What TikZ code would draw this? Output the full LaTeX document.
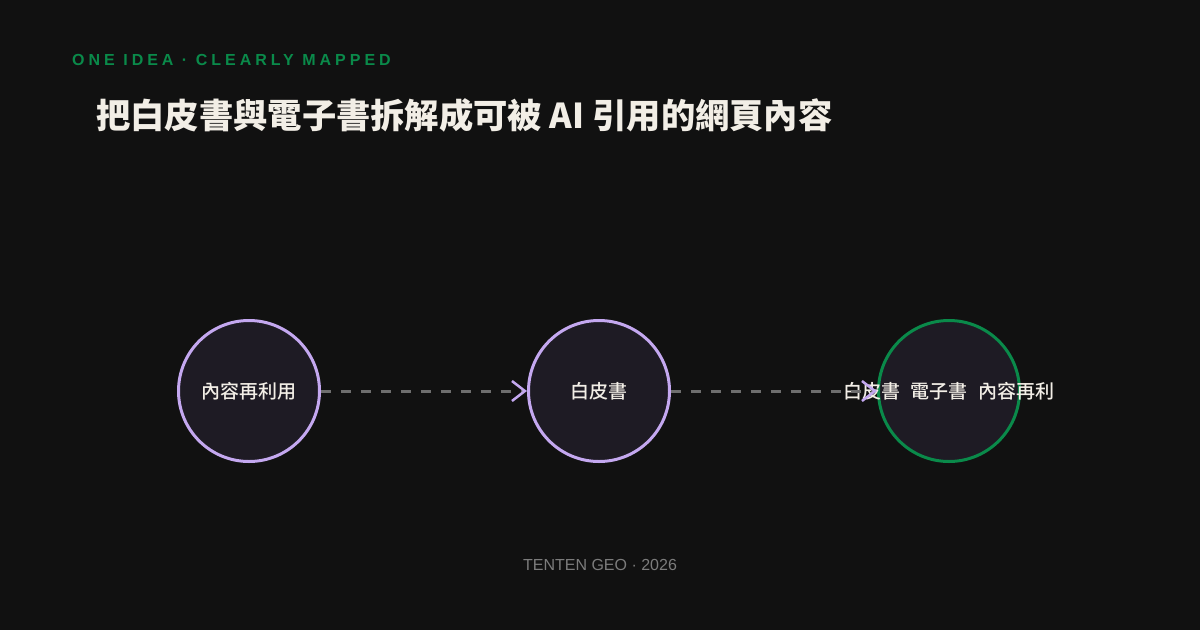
\documentclass[tikz,border=0pt]{standalone}
\usepackage{fontspec}
\setmainfont{Liberation Sans}
\newfontfamily\cjk{Noto Sans CJK TC}
\newfontfamily\cjkm{Noto Sans CJK TC}[UprightFont={* Medium}]
\newfontfamily\hdr{Liberation Sans}[LetterSpace=25]
\usetikzlibrary{arrows.meta}
\definecolor{bg}{HTML}{111111}
\definecolor{nodefill}{HTML}{1E1B24}
\definecolor{lav}{HTML}{C4A8F0}
\definecolor{grn}{HTML}{0A8A4A}
\definecolor{cream}{HTML}{F2EEE6}
\definecolor{dashgray}{HTML}{6E6E6E}
\definecolor{foot}{HTML}{7C7C7C}
\begin{document}
\begin{tikzpicture}[x=1pt,y=-1pt,
  circ/.style={circle, draw=lav, line width=3pt, fill=nodefill, minimum size=141pt, inner sep=0pt, text=cream, font=\cjkm\fontsize{19}{23}\selectfont},
  conn/.style={draw=dashgray, line width=3pt, dash pattern=on 10pt off 10pt, -{Straight Barb[length=13pt,width=20pt,color=lav,line width=2.5pt]}}
]
\fill[bg] (0,0) rectangle (1200,630);
\useasboundingbox (0,0) rectangle (1200,630);
\node[anchor=west, inner sep=0pt, text=grn, font=\hdr\bfseries\fontsize{16}{19}\selectfont] (kicker) at (72,60) {ONE IDEA · CLEARLY MAPPED};
\node[anchor=west, inner sep=0pt, text=cream, font=\cjk\bfseries\fontsize{34.3}{40}\selectfont] (title) at (96,115) {把白皮書與電子書拆解成可被 AI 引用的網頁內容};
\node[circ] (n1) at (249,391) {內容再利用};
\node[circ] (n2) at (599,391) {白皮書};
\node[circ, draw=grn] (n3) at (949,391) {\makebox[0pt]{白皮書\hspace{11pt}電子書\hspace{11pt}內容再利}};
\draw[conn] (n1) -- (n2);
\draw[conn] (n2) -- (n3);
\node[text=foot, inner sep=0pt, font=\fontsize{16}{19}\selectfont] (footer) at (600,565) {TENTEN GEO · 2026};
\end{tikzpicture}
\end{document}
